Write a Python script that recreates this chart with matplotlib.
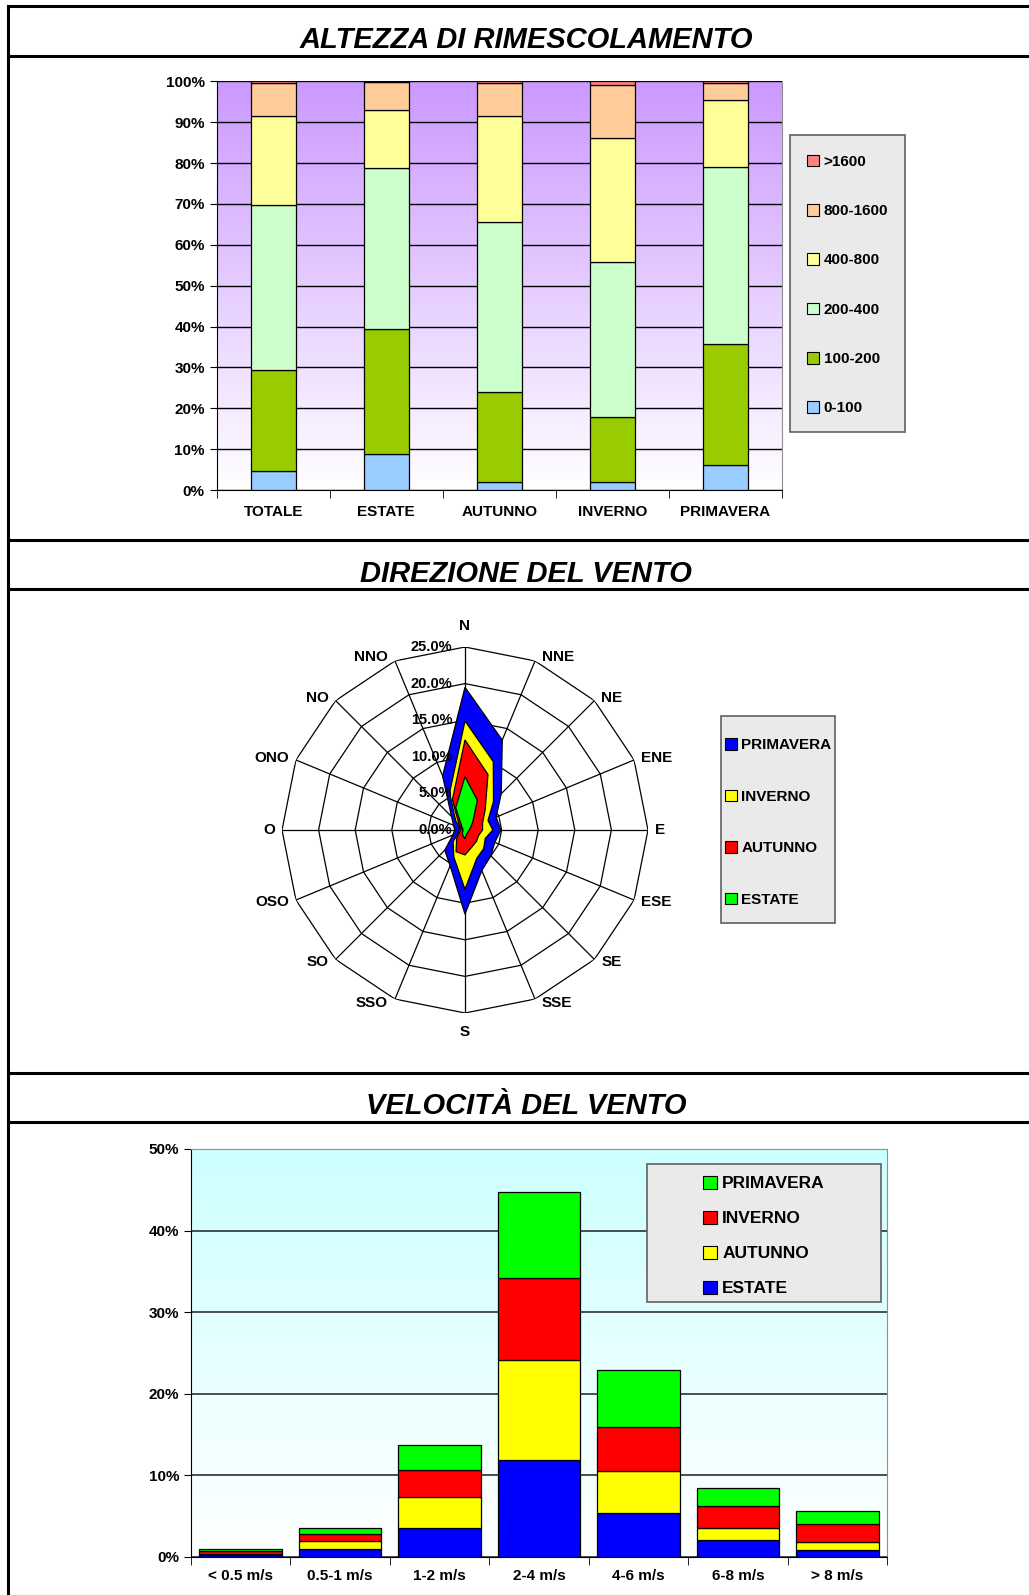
import numpy as np
import matplotlib
matplotlib.use("Agg")
import matplotlib.pyplot as plt
from matplotlib.patches import Patch, Rectangle
from matplotlib.lines import Line2D
from matplotlib.colors import LinearSegmentedColormap
from matplotlib.ticker import FuncFormatter

plt.rcParams['font.family'] = ['Liberation Sans', 'DejaVu Sans']
plt.rcParams['font.weight'] = 'bold'
NARROW = ['Liberation Sans Narrow', 'Liberation Sans', 'DejaVu Sans']

# altezza di rimescolamento (% per classe, m)
mix_cats = ['TOTALE', 'ESTATE', 'AUTUNNO', 'INVERNO', 'PRIMAVERA']
mix_classes = ['0-100', '100-200', '200-400', '400-800', '800-1600', '>1600']
mix_0_100 = [4.7, 8.9, 2.0, 2.0, 6.0]
mix_100_200 = [24.6, 30.6, 21.9, 15.9, 29.8]
mix_200_400 = [40.5, 39.2, 41.6, 37.8, 43.3]
mix_400_800 = [21.7, 14.4, 25.9, 30.5, 16.4]
mix_800_1600 = [8.1, 6.7, 8.3, 13.0, 4.1]
mix_over_1600 = [0.4, 0.2, 0.3, 0.8, 0.4]
mix_colors = ['#99CCFF', '#99CC00', '#CCFFCC', '#FFFF99', '#FFCC99', '#FF8080']

# direzione del vento (%)
dirs = ['N', 'NNE', 'NE', 'ENE', 'E', 'ESE', 'SE', 'SSE',
        'S', 'SSO', 'SO', 'OSO', 'O', 'ONO', 'NO', 'NNO']
dir_primavera = [19.5, 13.3, 7.0, 4.6, 4.9, 4.4, 5.0, 6.0, 11.5, 5.3, 3.9, 1.8, 1.4, 1.7, 2.6, 8.0]
dir_inverno = [14.9, 10.1, 5.5, 3.4, 3.8, 3.0, 3.6, 4.2, 8.1, 4.0, 2.3, 1.0, 0.8, 0.8, 1.8, 5.5]
dir_autunno = [12.3, 8.2, 3.9, 2.6, 2.4, 2.0, 2.2, 2.5, 3.4, 3.2, 1.6, 0.8, 0.6, 0.6, 1.2, 4.5]
dir_estate = [7.3, 4.4, 1.5, 0.8, 0.6, 0.5, 0.5, 0.6, 1.2, 0.8, 0.5, 0.3, 0.3, 0.3, 0.6, 3.3]
rings = [0, 5, 10, 15, 20, 25]

# velocita del vento (%)
speed_cats = ['< 0.5 m/s', '0.5-1 m/s', '1-2 m/s', '2-4 m/s', '4-6 m/s', '6-8 m/s', '> 8 m/s']
spd_estate = [0.25, 1.0, 3.6, 11.9, 5.45, 2.1, 0.8]
spd_autunno = [0.15, 1.0, 3.7, 12.2, 5.05, 1.5, 1.0]
spd_inverno = [0.33, 0.85, 3.4, 10.1, 5.4, 2.6, 2.2]
spd_primavera = [0.25, 0.65, 3.05, 10.5, 7.05, 2.3, 1.6]

W, H = 1029, 1595
fig = plt.figure(figsize=(W / 100, H / 100), dpi=100)


def fx(px):
    return px / W


def fy(py):
    return 1 - py / H


def box(x0, y0, x1, y1):
    return [fx(x0), fy(y1), (x1 - x0) / W, (y1 - y0) / H]


def gradient_bg(ax, top_color):
    cmap = LinearSegmentedColormap.from_list('bg', ['white', top_color])
    ax.imshow(np.linspace(0, 1, 256).reshape(-1, 1), cmap=cmap, origin='lower',
              aspect='auto', extent=[0, 1, 0, 1], transform=ax.transAxes, zorder=0)


def legend_box(x0, y0, x1, y1, handles, labels, fs, spacing, family=None, dy=0):
    fig.add_artist(Rectangle((fx(x0), fy(y1)), (x1 - x0) / W, (y1 - y0) / H,
                             transform=fig.transFigure, facecolor='#EAEAEA',
                             edgecolor='#606060', lw=1.2, zorder=2))
    prop = {'size': fs, 'weight': 'bold'}
    if family:
        prop['family'] = family
    fig.legend(handles, labels, loc='center', frameon=False,
               bbox_to_anchor=(fx((x0 + x1) / 2), fy((y0 + y1) / 2 + dy)),
               bbox_transform=fig.transFigure, prop=prop,
               handlelength=0.8, handleheight=0.8, handletextpad=0.3,
               labelspacing=spacing, borderaxespad=0)


# ---- page frame and titles
for yy in [6, 56, 540, 589, 1073, 1122]:
    fig.add_artist(Line2D([fx(8), 1], [fy(yy), fy(yy)], color='black', lw=2.2))
fig.add_artist(Line2D([fx(8), fx(8)], [fy(6), 0], color='black', lw=2.2))
for txt, yy in [('ALTEZZA DI RIMESCOLAMENTO', 40), ('DIREZIONE DEL VENTO', 574),
                ('VELOCITÀ DEL VENTO', 1106)]:
    fig.text(fx(526), fy(yy), txt, ha='center', va='center', fontsize=21,
             fontweight='bold', fontstyle='italic')

# ---- altezza di rimescolamento
ax1 = fig.add_axes(box(216.6, 81.3, 782, 490))
gradient_bg(ax1, '#CC99FF')
x = np.arange(len(mix_cats))
bottom = np.zeros(len(mix_cats))
series = [mix_0_100, mix_100_200, mix_200_400, mix_400_800, mix_800_1600, mix_over_1600]
for vals, col in zip(series, mix_colors):
    ax1.bar(x, vals, 0.4, bottom=bottom, color=col, edgecolor='black', lw=0.9, zorder=3)
    bottom += np.array(vals)
ax1.set_xlim(-0.5, len(mix_cats) - 0.5)
ax1.set_ylim(0, 100)
ax1.set_yticks(np.arange(0, 101, 10))
ax1.yaxis.set_major_formatter(FuncFormatter(lambda v, p: f'{v:.0f}%'))
ax1.set_axisbelow(True)
ax1.yaxis.grid(True, color='black', lw=1)
ax1.set_xticks(x)
ax1.set_xticklabels(mix_cats)
ax1.set_xticks(np.arange(-0.5, len(mix_cats)), minor=True)
ax1.tick_params(axis='x', which='major', length=0, pad=11, labelsize=11)
ax1.tick_params(axis='x', which='minor', length=6, direction='out')
ax1.tick_params(axis='y', length=5, labelsize=11)
ax1.spines['top'].set_visible(False)
ax1.spines['right'].set_color('#909090')
legend_box(790, 135, 905, 432,
           [Patch(facecolor=c, edgecolor='black', lw=0.8) for c in mix_colors[::-1]],
           mix_classes[::-1], 11, 2.3, dy=1.5)

# ---- direzione del vento
R_PX = 183
ax2 = fig.add_axes(box(465 - R_PX, 830 - R_PX, 465 + R_PX, 830 + R_PX), projection='polar')
ax2.set_theta_zero_location('N')
ax2.set_theta_direction(-1)
ax2.set_ylim(0, 25)
ax2.set_axis_off()
theta = np.deg2rad(np.arange(len(dirs)) * 22.5)
closed = np.append(theta, theta[0])
for r in rings[1:]:
    ax2.plot(closed, [r] * len(closed), color='black', lw=0.9, zorder=1)
for t in theta:
    ax2.plot([t, t], [0, 25], color='black', lw=0.9, zorder=1)
dir_series = [(dir_primavera, '#0000FF', 'PRIMAVERA'), (dir_inverno, '#FFFF00', 'INVERNO'),
              (dir_autunno, '#FF0000', 'AUTUNNO'), (dir_estate, '#00FF00', 'ESTATE')]
for vals, col, lab in dir_series:
    ax2.fill(closed, np.append(vals, vals[0]), facecolor=col, edgecolor='black',
             lw=0.9, zorder=2)
for r in rings:
    ax2.annotate(f'{r:.1f}%', xy=(0, r), xytext=(-9, 0), textcoords='offset points',
                 ha='right', va='center', fontsize=10.5, zorder=5)
for t, d in zip(theta, dirs):
    s, c = np.sin(t), np.cos(t)
    if abs(s) < 0.1:
        ha, va, off = 'center', ('bottom' if c > 0 else 'top'), (0, 10 if c > 0 else -9)
    else:
        ha, va, off = ('left' if s > 0 else 'right'), 'center', (5 * np.sign(s), 3 * c)
    ax2.annotate(d, xy=(t, 25), xytext=off, textcoords='offset points',
                 ha=ha, va=va, fontsize=11)
legend_box(721, 716, 835, 923,
           [Patch(facecolor=c, edgecolor='black', lw=0.8) for _, c, _ in dir_series],
           [lab for _, _, lab in dir_series], 11, 2.44, dy=3)

# ---- velocita del vento
ax3 = fig.add_axes(box(191, 1149, 887, 1557))
gradient_bg(ax3, '#CCFFFF')
xs = np.arange(len(speed_cats))
bottom = np.zeros(len(speed_cats))
spd_series = [(spd_estate, '#0000FF', 'ESTATE'), (spd_autunno, '#FFFF00', 'AUTUNNO'),
              (spd_inverno, '#FF0000', 'INVERNO'), (spd_primavera, '#00FF00', 'PRIMAVERA')]
for vals, col, lab in spd_series:
    ax3.bar(xs, vals, 0.83, bottom=bottom, color=col, edgecolor='black', lw=0.9, zorder=3)
    bottom += np.array(vals)
ax3.set_xlim(-0.5, len(speed_cats) - 0.5)
ax3.set_ylim(0, 50)
ax3.set_yticks(np.arange(0, 51, 10))
ax3.yaxis.set_major_formatter(FuncFormatter(lambda v, p: f'{v:.0f}%'))
ax3.set_axisbelow(True)
ax3.yaxis.grid(True, color='#303030', lw=1.2)
ax3.set_xticks(xs)
ax3.set_xticklabels(speed_cats, family=NARROW)
for lbl in ax3.get_yticklabels():
    lbl.set_family(NARROW)
ax3.set_xticks(np.arange(-0.5, len(speed_cats)), minor=True)
ax3.tick_params(axis='x', which='major', length=0, pad=9, labelsize=11)
ax3.tick_params(axis='x', which='minor', length=6, direction='out')
ax3.tick_params(axis='y', length=5, labelsize=11)
ax3.spines['top'].set_color('#909090')
ax3.spines['right'].set_color('#909090')
legend_box(647, 1164, 881, 1302,
           [Patch(facecolor=c, edgecolor='black', lw=0.8) for _, c, _ in spd_series[::-1]],
           [lab for _, _, lab in spd_series[::-1]], 12.5, 1.11, family=NARROW, dy=3)

fig.savefig('out.png', dpi=100)
